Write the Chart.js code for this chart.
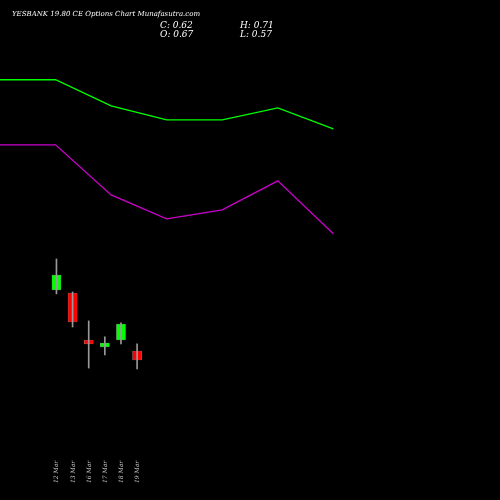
<!DOCTYPE html><html><head><style>html,body{margin:0;background:#000}#w{width:500px;height:500px}</style>
<script src="https://cdn.jsdelivr.net/npm/chart.js"></script></head><body><div id="w"><canvas id="c"></canvas></div><script>
const dates=['12 Mar','13 Mar','16 Mar','17 Mar','18 Mar','19 Mar'];
const opens=[1.009,0.992,0.731,0.692,0.731,0.67];
const highs=[1.181,0.998,0.837,0.748,0.826,0.71];
const lows=[0.987,0.803,0.575,0.648,0.709,0.57];
const closes=[1.092,0.831,0.709,0.714,0.820,0.62];
const greenLine=[2.177,2.177,2.032,1.954,1.954,2.021,1.904];
const purpleLine=[1.815,1.815,1.537,1.404,1.454,1.615,1.321];
const lineSlots=10, candleSlots=31, firstSlot=3;
const candleLabels=Array.from({length:candleSlots},(_,i)=>{const j=i-firstSlot;return j>=0&&j<dates.length?dates[j]:'s'+i;});
const cols=closes.map((c,i)=>c>=opens[i]?'#00ff00':'#ff0000');
const texts={afterDraw(ch){const x=ch.ctx,s=ch.scales.xc;x.save();x.fillStyle='#fff';x.font='italic 7px "DejaVu Serif",serif';
x.fillText('YESBANK 19.80 CE Options Chart Munafasutra.com',12,16);
x.font='italic 9px "DejaVu Serif",serif';
x.fillText('C: '+closes[5].toFixed(2),160,28);x.fillText('O: '+opens[5].toFixed(2),160,37);
x.fillText('H: '+highs[5].toFixed(2),240,28);x.fillText('L: '+lows[5].toFixed(2),240,37);
x.font='italic 6px "DejaVu Serif",serif';x.fillStyle='#ccc';
dates.forEach((d,i)=>{x.save();x.translate(s.getPixelForValue(d)+2,483);x.rotate(-Math.PI/2);x.fillText(d,0,0);x.restore();});
x.restore();}};
new Chart(document.getElementById('c'),{data:{labels:Array.from({length:lineSlots},(_,i)=>i),datasets:[
{type:'line',data:greenLine,borderColor:'#00ff00',borderWidth:1.3,pointRadius:0,xAxisID:'x'},
{type:'line',data:purpleLine,borderColor:'#cc00cc',borderWidth:1.3,pointRadius:0,xAxisID:'x'},
{type:'bar',data:dates.map((d,i)=>({x:d,y:[lows[i],highs[i]]})),backgroundColor:'#999',barThickness:1,xAxisID:'xc',grouped:false},
{type:'bar',data:dates.map((d,i)=>({x:d,y:[opens[i],closes[i]]})),backgroundColor:cols,borderColor:'#888',borderWidth:0.5,borderSkipped:false,barThickness:9,xAxisID:'xc',grouped:false}
]},options:{responsive:true,maintainAspectRatio:false,animation:false,layout:{padding:0},plugins:{legend:{display:false},tooltip:{enabled:false}},
scales:{x:{type:'category',display:false,offset:false},xc:{type:'category',labels:candleLabels,display:false,offset:true},y:{display:false,min:-0.158,max:2.62}}},plugins:[texts]});
</script></body></html>
